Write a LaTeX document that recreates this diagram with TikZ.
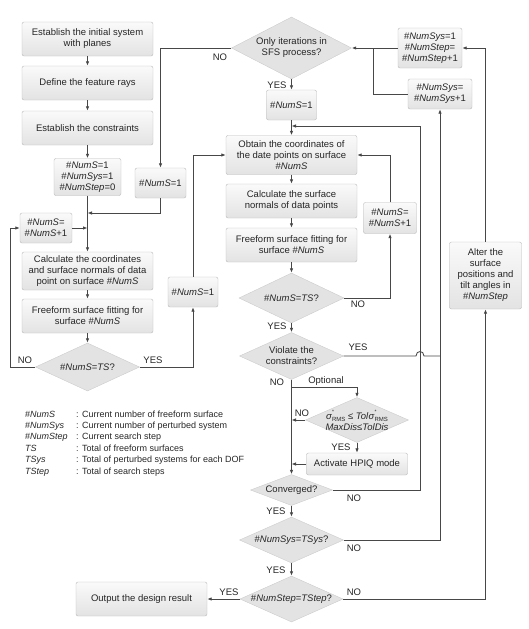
\documentclass[tikz,border=0pt]{standalone}
\usepackage{fontspec}
\setmainfont{Liberation Sans}
\usetikzlibrary{shapes.geometric,arrows.meta}
\newcommand{\NumS}{\#\textit{NumS}}
\newcommand{\NumSys}{\#\textit{NumSys}}
\newcommand{\NumStep}{\#\textit{NumStep}}
\newcommand{\sigRMS}{\textit{σ}\rlap{\raisebox{1.2ex}{\fontsize{5}{5}\selectfont*}}\raisebox{-0.5ex}{\fontsize{6}{6}\selectfont RMS}}
\begin{document}
\begin{tikzpicture}[x=1pt, y=-1pt,
  link/.style={draw=black!72, line width=0.85pt},
  linkarr/.style={link, -{Latex[length=4.5pt,width=3.5pt]}},
  box/.style={draw=gray!55, rounded corners=2pt, top color=gray!4, bottom color=gray!22,
    align=center, inner sep=1pt, text=black!85, font=\fontsize{9.5}{11}\selectfont},
  dia/.style={diamond, aspect=2, draw=gray!40, fill=gray!22, inner sep=-2pt,
    align=center, text=black!85, font=\fontsize{9.5}{11}\selectfont},
  lbl/.style={inner sep=0pt, text=black!85, font=\fontsize{9.5}{11}\selectfont},
  legend/.style={inner sep=0pt, anchor=base west, text=black!85, font=\fontsize{9}{11}\selectfont}]
\useasboundingbox (0,0) rectangle (528,629);

% left column
\node[box, minimum width=131pt, minimum height=34pt] (init) at (87.5,39) {Establish the initial system\\with planes};
\node[box, minimum width=131pt, minimum height=34pt] (rays) at (87.5,83) {Define the feature rays};
\node[box, minimum width=131pt, minimum height=34pt] (cons) at (87.5,128) {Establish the constraints};
\node[box, minimum width=67pt, minimum height=37pt] (ini) at (87.5,177) {\NumS=1\\\NumSys=1\\\NumStep=0};
\node[box, minimum width=51pt, minimum height=30pt] (setA) at (160.5,183) {\NumS=1};
\node[box, minimum width=52pt, minimum height=30pt] (incA) at (46,228) {\NumS=\\\NumS+1};
\node[box, minimum width=131pt, minimum height=38pt] (coordA) at (87.5,271) {Calculate the coordinates\\and surface normals of data\\point on surface \NumS};
\node[box, minimum width=131pt, minimum height=34pt] (fitA) at (87.5,316) {Freeform surface fitting for\\surface \NumS};
\node[dia, minimum width=104pt, minimum height=48pt] (testA) at (87.5,367) {\NumS=\textit{TS}?};
\node[box, minimum width=50pt, minimum height=30pt] (setB) at (193,292) {\NumS=1};

% middle column
\node[dia, minimum width=120pt, minimum height=62pt] (only) at (291.5,48) {Only iterations in\\SFS process?};
\node[box, minimum width=50pt, minimum height=30pt] (setC) at (291.5,105) {\NumS=1};
\node[box, minimum width=131pt, minimum height=39pt] (obtain) at (291.5,155) {Obtain the coordinates of\\the date points on surface\\\NumS};
\node[box, minimum width=131pt, minimum height=34pt] (normal) at (291.5,201) {Calculate the surface\\normals of data points};
\node[box, minimum width=131pt, minimum height=34pt] (fitB) at (291.5,245) {Freeform surface fitting for\\surface \NumS};
\node[dia, minimum width=105pt, minimum height=50pt] (testB) at (291.5,298) {\NumS=\textit{TS}?};
\node[box, minimum width=53pt, minimum height=31pt] (incB) at (390,218) {\NumS=\\\NumS+1};
\node[dia, minimum width=104pt, minimum height=47pt] (viol) at (291.5,356) {Violate the\\constraints?};
\node[dia, inner sep=-5pt, minimum width=103pt, minimum height=45pt] (crit) at (357,420) {\sigRMS\ ≤ \textit{Tol}\sigRMS\\\textit{MaxDis}≤\textit{TolDis}};
\node[box, minimum width=101pt, minimum height=22pt] (hpiq) at (357,464) {Activate HPIQ mode};
\node[dia, minimum width=82pt, minimum height=31pt] (conv) at (291.5,490) {Converged?};
\node[dia, minimum width=104pt, minimum height=46pt] (sys) at (291.5,540) {\NumSys=\textit{TSys}?};
\node[dia, minimum width=103pt, minimum height=46pt] (step) at (291.5,599) {\NumStep=\textit{TStep}?};
\node[box, minimum width=131pt, minimum height=34pt] (out) at (141.5,599) {Output the design result};

% right column
\node[box, minimum width=64pt, minimum height=40pt] (reset) at (430,48) {\NumSys=1\\\NumStep=\\\NumStep+1};
\node[box, minimum width=64pt, minimum height=30pt] (incS) at (440,94) {\NumSys=\\\NumSys+1};
\node[box, minimum width=72pt, minimum height=67pt] (alter) at (485.5,275.5) {Alter the\\surface\\positions and\\tilt angles in\\\NumStep};

% joints
\coordinate (jA) at (87.5,213);
\coordinate (jB) at (87.5,228);
\coordinate (lA) at (10,367);
\coordinate (jC) at (291.5,126);
\coordinate (rA) at (420,126);
\coordinate (opt) at (291.5,387);
\coordinate (bumpL) at (416,356);
\coordinate (bumpR) at (424,356);
\coordinate (rB) at (440,356);
\coordinate (jD) at (373,48);

% connectors
\draw[linkarr] (init) -- (rays);
\draw[linkarr] (rays) -- (cons);
\draw[linkarr] (cons) -- (ini);
\draw[linkarr] (ini) -- (coordA);
\draw[linkarr] (only.west) -| (setA.north);
\draw[linkarr] (setA.south) |- (jA);
\draw[linkarr] (incA) -- (jB);
\draw[linkarr] (testA.west) -- (lA) |- (incA.west);
\draw[linkarr] (coordA) -- (fitA);
\draw[linkarr] (fitA) -- (testA);
\draw[linkarr] (testA.east) -| (setB.south);
\draw[linkarr] (setB.north) |- (obtain.west);
\draw[linkarr] (only) -- (setC);
\draw[linkarr] (setC) -- (obtain);
\draw[linkarr] (obtain) -- (normal);
\draw[linkarr] (normal) -- (fitB);
\draw[linkarr] (fitB) -- (testB);
\draw[linkarr] (testB.east) -| (incB.south);
\draw[linkarr] (incB.north) |- (obtain.east);
\draw[linkarr] (testB) -- (viol);
\draw[linkarr] (viol) -- (conv);
\draw[linkarr] (opt) -| (crit.north);
\draw[linkarr] (crit.west) -- (crit.west -| viol);
\draw[linkarr] (crit) -- (hpiq);
\draw[linkarr] (hpiq.west) -- (hpiq.west -| viol);
\draw[linkarr] (conv.east) -| (rA) -- (jC);
\draw[link] (viol.east) -- (bumpL) .. controls +(0,-6) and +(0,-6) .. (bumpR) -- (rB);
\draw[linkarr] (sys.east) -| (incS.south);
\draw[link] (incS.west) -| (jD);
\draw[linkarr] (reset) -- (only);
\draw[linkarr] (alter.north) |- (reset.east);
\draw[linkarr] (step.east) -| (alter.south);
\draw[linkarr] (conv) -- (sys);
\draw[linkarr] (sys) -- (step);
\draw[linkarr] (step) -- (out);

% labels
\node[lbl] (noOnly) at (220,57) {NO};
\node[lbl] (yesOnly) at (277,85) {YES};
\node[lbl] (noA) at (25,360) {NO};
\node[lbl] (yesA) at (153,360) {YES};
\node[lbl] (noB) at (358,304) {NO};
\node[lbl] (yesB) at (277,326) {YES};
\node[lbl] (yesV) at (358,347) {YES};
\node[lbl] (noV) at (277,382) {NO};
\node[lbl] (optV) at (326,381) {Optional};
\node[lbl] (noC) at (302,413) {NO};
\node[lbl] (yesC) at (341,447) {YES};
\node[lbl] (noConv) at (354,498) {NO};
\node[lbl] (yesConv) at (276,511) {YES};
\node[lbl] (noSys) at (354,548) {NO};
\node[lbl] (yesSys) at (276,570) {YES};
\node[lbl] (noStep) at (354,592) {NO};
\node[lbl] (yesStep) at (229,592) {YES};

% legend
\foreach \sym/\txt [count=\k] in {{\NumS}/{Current number of freeform surface},
  {\NumSys}/{Current number of perturbed system}, {\NumStep}/{Current search step},
  {\textit{TS}}/{Total of freeform surfaces}, {\textit{TSys}}/{Total of perturbed systems for each DOF},
  {\textit{TStep}}/{Total of search steps}}
{
  \node[legend] (sym\k) at (25,{405.6+11.4*\k}) {\sym};
  \node[legend] (txt\k) at (76,{405.6+11.4*\k}) {: \txt};
}
\end{tikzpicture}
\end{document}
